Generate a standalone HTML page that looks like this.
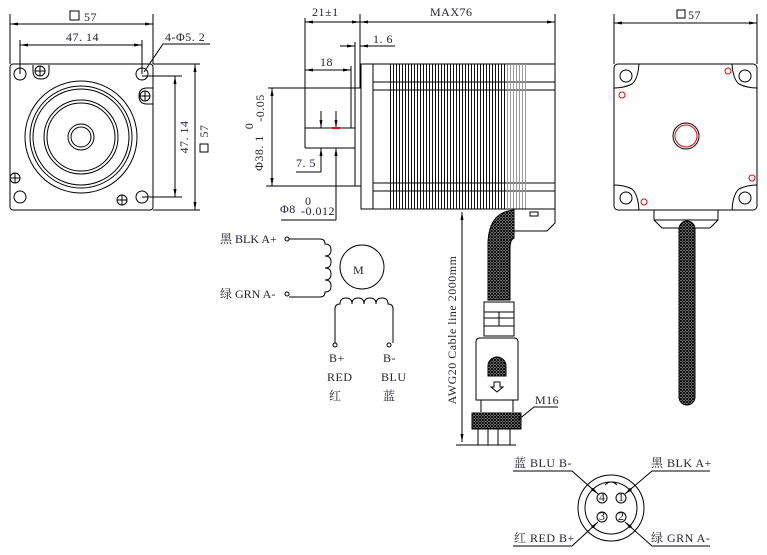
<!DOCTYPE html>
<html><head><meta charset="utf-8"><style>
html,body{margin:0;padding:0;background:#fff}
svg{display:block}
text{font-family:"Liberation Serif","Noto Serif CJK SC",serif;fill:#223;font-size:12px;letter-spacing:0.5px}
</style></head><body>
<svg width="767" height="555" viewBox="0 0 767 555" xmlns="http://www.w3.org/2000/svg">
<defs>
<pattern id="fin" width="3" height="10" patternUnits="userSpaceOnUse"><rect width="1" height="10" fill="#111"/></pattern>
<pattern id="finG" width="3" height="10" patternUnits="userSpaceOnUse"><rect width="1" height="10" fill="#999"/></pattern>
<pattern id="brd" width="3" height="3" patternUnits="userSpaceOnUse"><rect width="3" height="3" fill="#fff"/><path d="M0 0L3 3M3 0L0 3" stroke="#111" stroke-width="1.3"/></pattern>
<marker id="ar" markerWidth="8" markerHeight="6" refX="8" refY="3" orient="auto-start-reverse" markerUnits="userSpaceOnUse"><path d="M0 1.5L8 3L0 4.5z" fill="#000"/></marker>
</defs>
<g fill="none" stroke="#000" stroke-width="1">
<rect x="10" y="64" width="143" height="146" rx="3"/>
<line x1="153" y1="64" x2="200" y2="64"/><line x1="153" y1="210" x2="200" y2="210"/>
<line x1="10" y1="14" x2="10" y2="64"/><line x1="153" y1="14" x2="153" y2="64"/>
<line x1="10" y1="24" x2="153" y2="24" marker-start="url(#ar)" marker-end="url(#ar)"/>
<line x1="20" y1="40" x2="20" y2="74"/><line x1="142" y1="40" x2="142" y2="74"/>
<line x1="20" y1="45" x2="142" y2="45" marker-start="url(#ar)" marker-end="url(#ar)"/>
<circle cx="20" cy="74" r="6"/><circle cx="142" cy="74" r="6"/><circle cx="20" cy="197" r="6"/><circle cx="142" cy="197" r="6"/>
<polyline points="144,72 163,44 210,44"/>
<line x1="142" y1="76" x2="182" y2="76"/><line x1="142" y1="197" x2="182" y2="197"/>
<line x1="175" y1="76" x2="175" y2="197" marker-start="url(#ar)" marker-end="url(#ar)"/>
<line x1="195" y1="64" x2="195" y2="210" marker-start="url(#ar)" marker-end="url(#ar)"/>
<g><circle cx="40" cy="71" r="5"/><path d="M35 71h10M40 66v10"/><circle cx="145" cy="96" r="5"/><path d="M140 96h10M145 91v10"/><circle cx="15" cy="178" r="5"/><path d="M10 178h10M15 173v10"/><circle cx="122" cy="200" r="5"/><path d="M117 200h10M122 195v10"/></g>
<path d="M33 65v6q0 8 8 8q8 0 8-8v-6" /><path d="M153 88h-6q-8 0-8 8q0 8 8 8h6"/>
<circle cx="81" cy="137" r="56"/><circle cx="81" cy="137" r="51"/><circle cx="81" cy="137" r="48"/><circle cx="81" cy="137" r="37"/><circle cx="81" cy="137" r="34"/><circle cx="81" cy="137" r="13"/><circle cx="81" cy="137" r="10"/>
<rect x="361" y="64" width="194" height="145"/>
<line x1="373" y1="64" x2="373" y2="209"/>
<line x1="373" y1="82" x2="555" y2="82"/><line x1="373" y1="90" x2="555" y2="90"/>
<line x1="373" y1="183" x2="555" y2="183"/><line x1="373" y1="191" x2="555" y2="191"/>
<rect x="389" y="64" width="117" height="145" fill="url(#fin)" stroke="none"/>
<rect x="507" y="64" width="19" height="145" fill="url(#finG)" stroke="none"/>
<line x1="555" y1="14" x2="555" y2="64"/><line x1="360" y1="14" x2="360" y2="88"/>
<line x1="355" y1="42" x2="355" y2="186"/><line x1="355" y1="88" x2="361" y2="88"/><line x1="355" y1="186" x2="361" y2="186"/>
<line x1="305" y1="18" x2="305" y2="148"/><line x1="305" y1="148" x2="355" y2="148"/><line x1="305" y1="128" x2="355" y2="128"/>
<line x1="351" y1="66" x2="351" y2="128"/>
<line x1="305" y1="22" x2="360" y2="22" marker-start="url(#ar)" marker-end="url(#ar)"/>
<line x1="360" y1="22" x2="555" y2="22" marker-start="url(#ar)" marker-end="url(#ar)"/>
<line x1="305" y1="70" x2="351" y2="70" marker-start="url(#ar)" marker-end="url(#ar)"/>
<line x1="340" y1="46" x2="355" y2="46" marker-end="url(#ar)"/><line x1="360" y1="46" x2="395" y2="46" marker-start="url(#ar)"/>
<line x1="268" y1="88" x2="361" y2="88"/><line x1="266" y1="186" x2="355" y2="186"/>
<line x1="272" y1="88" x2="272" y2="186" marker-start="url(#ar)" marker-end="url(#ar)"/>
<line x1="321" y1="111" x2="321" y2="128" marker-end="url(#ar)"/><line x1="321" y1="148" x2="321" y2="172" marker-start="url(#ar)"/>
<line x1="336" y1="111" x2="336" y2="128" marker-end="url(#ar)"/><line x1="336" y1="148" x2="336" y2="220" marker-start="url(#ar)"/>
<line x1="296" y1="172" x2="321" y2="172"/><line x1="281" y1="220" x2="336" y2="220"/>
<line x1="332" y1="128" x2="340" y2="128" stroke="#e00" stroke-width="2"/>
<path d="M513 209h42v14l-8 8h-34z" fill="#fff"/>
<rect x="530" y="212" width="8" height="4"/>
<path d="M488 300v-55q0-33 26-35v28q-4 2-4 10v52z" fill="url(#brd)"/>
<rect x="484" y="302" width="30" height="34" fill="#fff"/>
<path d="M484 312h30M484 318h30M484 326h30M499 312v14"/>
<path d="M476 400v-58q0-4 4-4h34q4 0 4 4v58z" fill="#fff"/>
<path d="M488 376v-10a9 9 0 0 1 18 0v10z" fill="url(#brd)"/>
<path d="M494 382h6v5h3l-6 5l-6-5h3z"/>
<path d="M481 400v12M513 400v12"/>
<rect x="472" y="413" width="49" height="16" fill="url(#brd)"/>
<path d="M478 429v16M488 429v16M498 429v16M510 429v16M456 445h60"/>
<line x1="462" y1="212" x2="462" y2="442" marker-start="url(#ar)" marker-end="url(#ar)"/>
<polyline points="518,420 534,407 558,407"/>
<line x1="614" y1="14" x2="614" y2="64"/><line x1="757" y1="14" x2="757" y2="64"/>
<line x1="614" y1="23" x2="757" y2="23" marker-start="url(#ar)" marker-end="url(#ar)"/>
<rect x="614" y="64" width="143" height="146" rx="4"/>
<circle cx="626" cy="76" r="6"/><circle cx="745" cy="76" r="6"/><circle cx="626" cy="198" r="6"/><circle cx="745" cy="198" r="6"/>
<path d="M614 88q10 0 18-4q6-5 7-20M757 88q-10 0-18-4q-6-5-7-20M614 185q10 0 18 4q6 5 7 21M757 185q-10 0-18 4q-6 5-7 21"/>
<circle cx="686" cy="136" r="13"/><circle cx="686" cy="136" r="11" stroke="#e00"/>
<circle cx="728" cy="71" r="3" stroke="#e00"/><circle cx="622" cy="95" r="3" stroke="#e00"/><circle cx="752" cy="178" r="3" stroke="#e00"/><circle cx="644" cy="202" r="3" stroke="#e00"/>
<path d="M654 210v10l8 8h48l8-8v-10M654 220h64"/>
<rect x="679" y="221" width="16" height="184" rx="8" fill="url(#brd)"/>
<circle cx="287" cy="239" r="2"/><circle cx="287" cy="294" r="2"/>
<path d="M289 239h31q5 0 5 5q6 0 6 6q0 6-6 6q6 0 6 6q0 6-6 6q6 0 6 6q0 6-6 6q6 0 6 6q0 6-6 6v0q0 5-5 5h-31"/>
<circle cx="362" cy="267" r="22"/>
<path d="M335 343v-34q0-5 5-5q0-6 6-6q6 0 6 6q0-6 6-6q6 0 6 6q0-6 6-6q6 0 6 6q0-6 6-6q6 0 6 6q5 0 5 5v34"/>
<circle cx="335" cy="345" r="2"/><circle cx="389" cy="345" r="2"/>
<circle cx="611" cy="508" r="33"/><circle cx="611" cy="508" r="26"/>
<path d="M605 485q6 -6 12 0"/>
<circle cx="602" cy="498" r="5"/><circle cx="621" cy="498" r="5"/><circle cx="602" cy="517" r="5"/><circle cx="621" cy="517" r="5"/>
<polyline points="513,471 572,471 598,494" marker-end="url(#ar)"/>
<polyline points="710,471 652,471 625,494" marker-end="url(#ar)"/>
<polyline points="513,546 572,546 598,522" marker-end="url(#ar)"/>
<polyline points="710,546 652,546 625,522" marker-end="url(#ar)"/>
</g>
<g>
<rect x="70" y="11" width="9" height="9" fill="none" stroke="#000"/><text x="84" y="21">57</text>
<text x="66" y="41">47. 14</text>
<text x="165" y="41">4-Φ5. 2</text>
<text transform="translate(188,137) rotate(-90)" text-anchor="middle">47. 14</text>
<rect x="200" y="144" width="8" height="8" fill="none" stroke="#000"/>
<text transform="translate(208,131) rotate(-90)" text-anchor="middle">57</text>
<text x="312" y="16">21±1</text><text x="430" y="16">MAX76</text>
<text x="373" y="43">1. 6</text><text x="320" y="66">18</text>
<text transform="translate(263,153) rotate(-90)" text-anchor="middle">Φ38. 1</text>
<text transform="translate(253,126) rotate(-90)" text-anchor="middle" font-size="9">0</text>
<text transform="translate(264,108) rotate(-90)" text-anchor="middle" font-size="9">-0.05</text>
<text x="296" y="167">7. 5</text>
<text x="280" y="213">Φ8</text><text x="305" y="205" font-size="9">0</text><text x="301" y="215" font-size="9">-0.012</text>
<text transform="translate(456,330) rotate(-90)" text-anchor="middle">AWG20 Cable line 2000mm</text>
<text x="535" y="404">M16</text>
<rect x="677" y="10" width="8" height="8" fill="none" stroke="#000"/><text x="688" y="19">57</text>
<text x="220" y="243" style="letter-spacing:0">黑 BLK A+</text><text x="220" y="298" style="letter-spacing:0">绿 GRN A-</text>
<text x="353" y="274" font-family="Liberation Sans,sans-serif" font-size="20" fill="#333">M</text>
<text x="329" y="362">B+</text><text x="383" y="362">B-</text>
<text x="327" y="381">RED</text><text x="381" y="381">BLU</text>
<text x="329" y="400">红</text><text x="383" y="400">蓝</text>
<text x="514" y="467">蓝 BLU B-</text><text x="651" y="467">黑 BLK A+</text>
<text x="514" y="542">红 RED B+</text><text x="651" y="542">绿 GRN A-</text>
<g><text x="599" y="501" font-size="9">4</text><text x="618" y="501" font-size="9">1</text><text x="599" y="520" font-size="9">3</text><text x="618" y="520" font-size="9">2</text></g>
</g>
</svg>
</body></html>
